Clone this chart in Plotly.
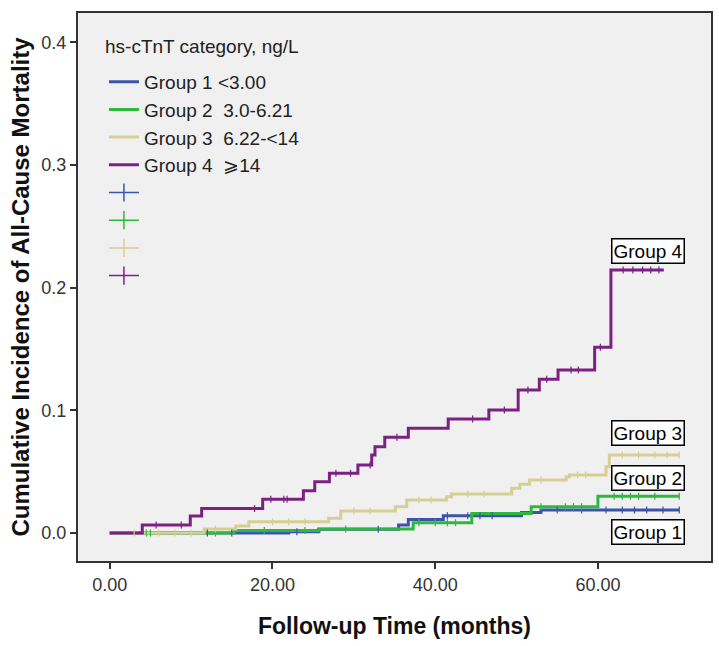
import plotly.graph_objects as go

# ---- data ----
group_names = ["Group 1 <3.00", "Group 2  3.0-6.21", "Group 3  6.22-<14", "Group 4  ⩾14"]
group_labels = ["Group 1", "Group 2", "Group 3", "Group 4"]
colors = ["#3b55ab", "#2fb83f", "#d6cf95", "#7c2183"]

g1_t = [0.0, 22.0, 25.7, 35.5, 36.7, 41.0, 50.6, 53.0, 70.0]
g1_y = [0.0, 0.001, 0.003, 0.0065, 0.011, 0.014, 0.0168, 0.0187, 0.0187]

g2_t = [0.0, 15.3, 25.7, 37.3, 44.5, 51.8, 60.0, 70.0]
g2_y = [0.0, 0.002, 0.0033, 0.0084, 0.016, 0.0215, 0.030, 0.030]

g3_t = [0.0, 11.6, 15.5, 17.1, 26.9, 28.4, 35.1, 36.5, 41.4, 42.0, 49.4, 50.4, 51.6, 56.1, 56.5, 61.0, 61.4, 70.0]
g3_y = [0.0, 0.0033, 0.0057, 0.0092, 0.012, 0.0179, 0.0215, 0.027, 0.0296, 0.0318, 0.0364, 0.0397, 0.0432, 0.0459, 0.0473, 0.054, 0.0636, 0.0636]

g4_t = [0.0, 4.0, 9.9, 11.3, 18.8, 23.8, 25.2, 27.0, 30.5, 32.2, 32.6, 33.8, 36.7, 41.6, 46.6, 50.2, 52.8, 55.1, 59.6, 61.6, 68.1]
g4_y = [0.0, 0.0065, 0.0139, 0.020, 0.0275, 0.0345, 0.0418, 0.0487, 0.0554, 0.0636, 0.0703, 0.078, 0.0853, 0.093, 0.1002, 0.1165, 0.1253, 0.1328, 0.1513, 0.2143, 0.2143]

# censoring times
g1_cens = [12.0, 15.0, 23.0, 33.0, 41.5, 44.0, 45.5, 47.0, 55.0, 58.0, 61.0, 63.0, 64.5, 66.0, 68.0, 70.0]
g2_cens = [4.5, 5.0, 13.0, 19.0, 24.0, 29.0, 38.0, 40.0, 41.5, 42.5, 53.0, 56.0, 57.0, 58.0, 62.0, 63.0, 64.0, 65.0, 67.0, 70.0]
g3_cens = [3.0, 6.0, 8.0, 10.0, 13.0, 20.0, 22.0, 24.0, 30.0, 32.0, 38.0, 39.5, 44.0, 46.0, 53.0, 57.5, 58.5, 63.0, 65.0, 67.0, 68.5, 70.0]
g4_cens = [5.7, 8.8, 17.8, 19.8, 21.4, 21.8, 27.8, 29.6, 32.0, 35.3, 44.6, 48.5, 51.4, 53.7, 56.7, 57.6, 60.3, 63.1, 64.3, 65.5, 66.5, 67.5]

times = [g1_t, g2_t, g3_t, g4_t]
vals = [g1_y, g2_y, g3_y, g4_y]
cens = [g1_cens, g2_cens, g3_cens, g4_cens]

# label box positions (centre, in data units)
label_t = [66.1, 66.1, 66.1, 66.1]
label_y = [0.0008, 0.045, 0.0815, 0.230]

x_ticks = [0, 20, 40, 60]
y_ticks = [0.0, 0.1, 0.2, 0.3, 0.4]
legend_title = "hs-cTnT category, ng/L"

FONT = "Liberation Sans, Arial"


def step_value(ts, ys, t):
    v = ys[0]
    for ti, yi in zip(ts, ys):
        if ti <= t:
            v = yi
    return v


fig = go.Figure()

for i in range(4):
    fig.add_trace(go.Scatter(
        x=times[i], y=vals[i], mode="lines", line=dict(color=colors[i], width=3, shape="hv"),
        name=group_names[i], legendgroup=f"g{i}", hoverinfo="skip"))

# censor marks on the curves
for i in range(4):
    cx = list(cens[i])
    cy = [step_value(times[i], vals[i], t) for t in cens[i]]
    fig.add_trace(go.Scatter(
        x=cx, y=cy, mode="markers",
        marker=dict(symbol="line-ns-open", size=5, color=colors[i], line=dict(color=colors[i], width=1.2)),
        showlegend=False, hoverinfo="skip"))

# legend keys for censored marks (plus signs)
for i in range(4):
    fig.add_trace(go.Scatter(
        x=[None], y=[None], mode="lines+markers",
        line=dict(color=colors[i], width=1.5),
        marker=dict(symbol="line-ns-open", size=13, color=colors[i], line=dict(color=colors[i], width=1.5)),
        name=" ", legendgroup=f"c{i}", hoverinfo="skip"))

for i in range(4):
    fig.add_annotation(
        x=label_t[i], y=label_y[i], xref="x", yref="y", text=group_labels[i], showarrow=False,
        font=dict(family=FONT, size=19, color="black"),
        bgcolor="white", bordercolor="black", borderwidth=1.5, borderpad=1)

fig.add_annotation(
    x=0.040, y=0.938, xref="paper", yref="paper", xanchor="left", yanchor="middle",
    text=legend_title, showarrow=False, font=dict(family=FONT, size=19, color="#222222"))

fig.update_layout(
    width=719, height=646,
    margin=dict(l=78, r=6, t=13, b=85),
    paper_bgcolor="white", plot_bgcolor="#f0f0f0",
    font=dict(family=FONT, color="#222222"),
    showlegend=True,
    legend=dict(
        x=0.041, y=0.909, xanchor="left", yanchor="top",
        bgcolor="rgba(0,0,0,0)", borderwidth=0,
        font=dict(size=19, color="#222222"),
        tracegroupgap=0, itemwidth=30,
    ),
)

fig.update_xaxes(
    range=[-3.9, 73.9], tickvals=x_ticks, tickformat=".2f",
    ticks="outside", ticklen=6, tickcolor="#333333", tickwidth=1.5,
    showgrid=False, zeroline=False,
    showline=True, linecolor="#333333", linewidth=2, mirror=True,
    tickfont=dict(size=18, color="#333333"),
    title=dict(text="<b>Follow-up Time (months)</b>", font=dict(size=23, color="#111111"), standoff=24),
)
fig.update_yaxes(
    range=[-0.0228, 0.4238], tickvals=y_ticks, tickformat=".1f",
    ticks="outside", ticklen=6, tickcolor="#333333", tickwidth=1.5,
    showgrid=False, zeroline=False,
    showline=True, linecolor="#333333", linewidth=2, mirror=True,
    tickfont=dict(size=18, color="#333333"),
    title=dict(text="<b>Cumulative Incidence of All-Cause Mortality</b>", font=dict(size=24, color="#111111"), standoff=5),
)

fig.write_html("out.html")
